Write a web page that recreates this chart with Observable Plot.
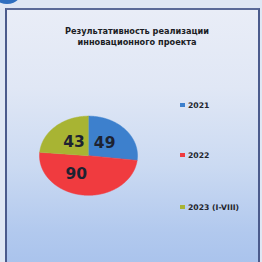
<!DOCTYPE html>
<html><head><meta charset="utf-8">
<script src="https://cdn.jsdelivr.net/npm/d3@7"></script>
<script src="https://cdn.jsdelivr.net/npm/@observablehq/plot@0.6"></script>
<style>
html,body{margin:0;padding:0;width:262px;height:262px;overflow:hidden;background:#dfe7f4;}
#stage{position:relative;width:262px;height:262px;font-family:"DejaVu Sans",sans-serif;}
#blob{position:absolute;left:-10px;top:-32px;width:34px;height:36px;border-radius:50%;background:#2f6fbf;}
#frame{position:absolute;left:5px;top:8px;width:255px;height:262px;box-sizing:border-box;border-left:2px solid #4b5b8c;border-top:2px solid #5a6a98;border-right:2px solid #4b5b8c;
 background:linear-gradient(to bottom,#e9edf7 0%,#e0e7f5 30%,#cbdaf2 60%,#b2c9ee 85%,#a8c2ec 100%);}
#title{position:absolute;left:0;width:274px;top:26px;text-align:center;font-weight:bold;font-size:8.2px;line-height:10.5px;color:#1c1e25;}
#chart{position:absolute;left:0;top:0;}
.leg{position:absolute;left:180px;font-weight:bold;font-size:7.7px;color:#22242c;white-space:nowrap;}
.leg i{display:inline-block;width:5px;height:4px;margin-right:3px;vertical-align:1px;}
</style></head>
<body>
<div id="stage">
  <div id="frame"></div>
  <div id="blob"></div>
  <div id="title">Результативность реализации<br>инновационного проекта</div>
  <div id="chart"></div>
  <div id="legend"></div>
</div>
<script>
const years = ["2021", "2022", "2023 (I-VIII)"];
const values = [49, 90, 43];
const colors = ["#3d80cd", "#f03b3f", "#a8b433"];

const pie = d3.pie().sort(null).value(d => d.value);
const arcs = pie(years.map((y, i) => ({year: y, value: values[i]})));

// slice outlines in unit-circle coordinates (angle 0 = top, clockwise)
const pts = [];
for (const a of arcs) {
  pts.push({year: a.data.year, x: 0, y: 0});
  const n = Math.max(2, Math.ceil((a.endAngle - a.startAngle) / 0.01));
  for (let k = 0; k <= n; k++) {
    const t = a.startAngle + (a.endAngle - a.startAngle) * k / n;
    pts.push({year: a.data.year, x: Math.sin(t), y: Math.cos(t)});
  }
}
const labels = arcs.map(a => {
  const m = (a.startAngle + a.endAngle) / 2;
  return {year: a.data.year, value: a.data.value, x: 0.44 * Math.sin(m), y: 0.47 * Math.cos(m)};
});

const plot = Plot.plot({
  width: 262, height: 262,
  style: {background: "transparent", overflow: "visible"},
  x: {domain: [-1, 1], range: [39, 137], axis: null},
  y: {domain: [-1, 1], range: [194.8, 115.6], axis: null},
  color: {domain: years, range: colors},
  marks: [
    Plot.line(pts, {x: "x", y: "y", z: "year", fill: "year", stroke: "year", strokeWidth: 0.5}),
    Plot.text(labels, {filter: d => d.year !== "2022", x: "x", y: "y", text: d => String(d.value), fontSize: 15.5, fontWeight: "bold", fill: "#1d2231", fontFamily: "DejaVu Sans"}),
    Plot.text(labels, {filter: d => d.year === "2022", x: "x", y: "y", dx: -10, text: d => String(d.value), fontSize: 15.5, fontWeight: "bold", fill: "#1d2231", fontFamily: "DejaVu Sans"})
  ]
});
document.getElementById("chart").appendChild(plot);

const legTops = [101, 151, 203];
const leg = document.getElementById("legend");
years.forEach((y, i) => {
  const d = document.createElement("div");
  d.className = "leg";
  d.style.top = legTops[i] + "px";
  d.innerHTML = `<i style="background:${colors[i]}"></i>${y}`;
  leg.appendChild(d);
});
</script>
</body></html>
